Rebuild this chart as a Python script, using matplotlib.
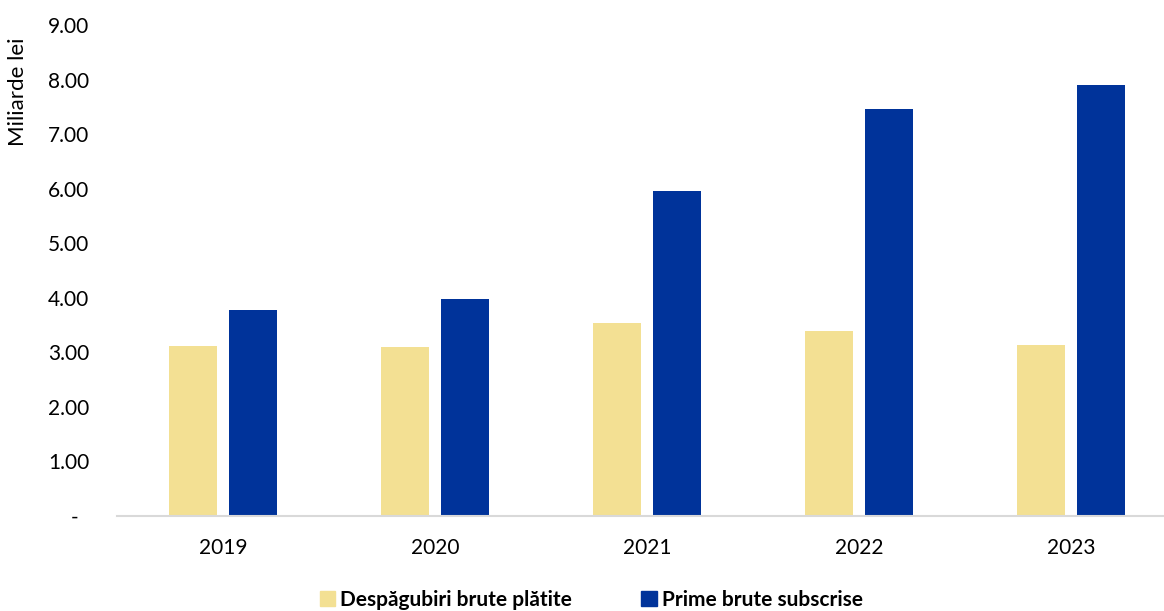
import numpy as np
import matplotlib.pyplot as plt
from matplotlib.patches import Patch

plt.rcParams['font.family'] = ['Lato', 'DejaVu Sans']

# Values in billions of lei
years = ["2019", "2020", "2021", "2022", "2023"]
despagubiri = [3.11, 3.10, 3.53, 3.39, 3.13]
prime = [3.78, 3.97, 5.95, 7.47, 7.91]

yellow = "#F3E093"
blue = "#00339A"

fig = plt.figure(figsize=(11.64, 6.11), dpi=100)
ax = fig.add_axes([0.1005, 0.1555, 0.911, 0.8035])

x = np.arange(len(years))
w = 0.226
off = 0.141
ax.bar(x - off, despagubiri, width=w, color=yellow)
ax.bar(x + off, prime, width=w, color=blue)

ax.set_xlim(-0.5, 4.5)
ax.set_ylim(0, 9)
ax.set_yticks(np.arange(0, 10, 1))
ax.set_yticklabels(["-  "] + [f"{v:.2f}" for v in range(1, 10)])
ax.set_xticks(x)
ax.set_xticklabels(years)
ax.tick_params(axis="y", length=0, pad=20, labelsize=15)
ax.tick_params(axis="x", length=0, pad=16, labelsize=15)

for s in ["top", "right", "left"]:
    ax.spines[s].set_visible(False)
ax.spines["bottom"].set_color("#D9D9D9")
ax.spines["bottom"].set_linewidth(1.5)

fig.text(18 / 1164, 1 - 92 / 611, "Miliarde lei", rotation=90,
         ha="center", va="center", fontsize=16)

handles = [Patch(color=yellow, label="Despăgubiri brute plătite"),
           Patch(color=blue, label="Prime brute subscrise")]
fig.legend(handles=handles, loc="center", bbox_to_anchor=(0.508, 1 - 600 / 611),
           ncol=2, frameon=False, prop={"weight": "bold", "size": 15},
           handlelength=0.75, handleheight=0.75, handletextpad=0.25,
           columnspacing=3.3)

fig.savefig("out.png", dpi=100)
